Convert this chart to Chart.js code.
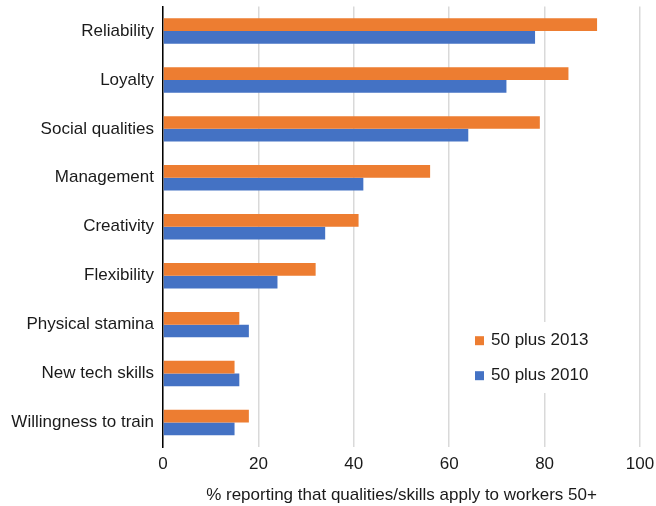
<!DOCTYPE html>
<html>
<head>
<meta charset="utf-8">
<script src="https://cdn.jsdelivr.net/npm/chart.js@4/dist/chart.umd.min.js"></script>
<style>
html,body{margin:0;padding:0;background:#fff;}
#wrap{width:656px;height:506px;position:relative;}
</style>
</head>
<body>
<div id="wrap"><canvas id="c" width="656" height="506"></canvas></div>
<script>
const categories = ["Reliability","Loyalty","Social qualities","Management","Creativity","Flexibility","Physical stamina","New tech skills","Willingness to train"];
const values2013 = [91,85,79,56,41,32,16,15,18];
const values2010 = [78,72,64,42,34,24,18,16,15];
const seriesLabels = ["50 plus 2013","50 plus 2010"];
const xTicks = [0,20,40,60,80,100];
const xTitle = "% reporting that qualities/skills apply to workers 50+";

const FONT = "'Liberation Sans', Arial, Helvetica, sans-serif";

const legendPlugin = {
  id: 'insideLegend',
  afterDraw(chart) {
    const ctx = chart.ctx;
    const x0 = 465, y0 = 322, w = 135, h = 71;
    ctx.save();
    ctx.fillStyle = '#ffffff';
    ctx.fillRect(x0, y0, w, h);
    ctx.font = '17px ' + FONT;
    ctx.textBaseline = 'middle';
    ctx.textAlign = 'left';
    chart.data.datasets.forEach((ds, i) => {
      const cy = 340.7 + i * 35;
      ctx.fillStyle = ds.backgroundColor;
      ctx.fillRect(475, cy - 4.5, 9, 9);
      ctx.fillStyle = '#1a1a1a';
      ctx.fillText(ds.label, 491, cy);
    });
    ctx.restore();
  }
};

new Chart(document.getElementById('c'), {
  type: 'bar',
  data: {
    labels: categories,
    datasets: [
      {label: seriesLabels[0], data: values2013, backgroundColor: '#ED7D31', borderWidth: 0, categoryPercentage: 0.52, barPercentage: 1.0},
      {label: seriesLabels[1], data: values2010, backgroundColor: '#4472C4', borderWidth: 0, categoryPercentage: 0.52, barPercentage: 1.0}
    ]
  },
  options: {
    indexAxis: 'y',
    responsive: false,
    animation: false,
    devicePixelRatio: 1,
    layout: {padding: {top: 6.5, right: 16, bottom: 0, left: 0}},
    plugins: {legend: {display: false}, tooltip: {enabled: false}},
    scales: {
      x: {
        min: 0, max: 100,
        afterBuildTicks(scale) { scale.ticks = xTicks.map(v => ({value: v})); },
        afterFit(scale) { scale.height = 59; scale.paddingLeft = 0; scale.paddingRight = 0; },
        grid: {color: '#d9d9d9', lineWidth: 1.5, drawTicks: false, drawOnChartArea: true},
        border: {display: false},
        ticks: {color: '#1a1a1a', font: {family: FONT, size: 17}, padding: 7, maxRotation: 0},
        title: {display: true, text: xTitle, color: '#1a1a1a', font: {family: FONT, size: 17}, padding: {top: 4, bottom: 0}}
      },
      y: {
        afterFit(scale) { scale.width = 163; scale.paddingTop = 0; scale.paddingBottom = 0; },
        grid: {display: false, drawTicks: false},
        border: {display: true, color: '#000000', width: 1.5},
        ticks: {color: '#1a1a1a', font: {family: FONT, size: 17}, padding: 9}
      }
    }
  },
  plugins: [legendPlugin]
});
</script>
</body>
</html>
